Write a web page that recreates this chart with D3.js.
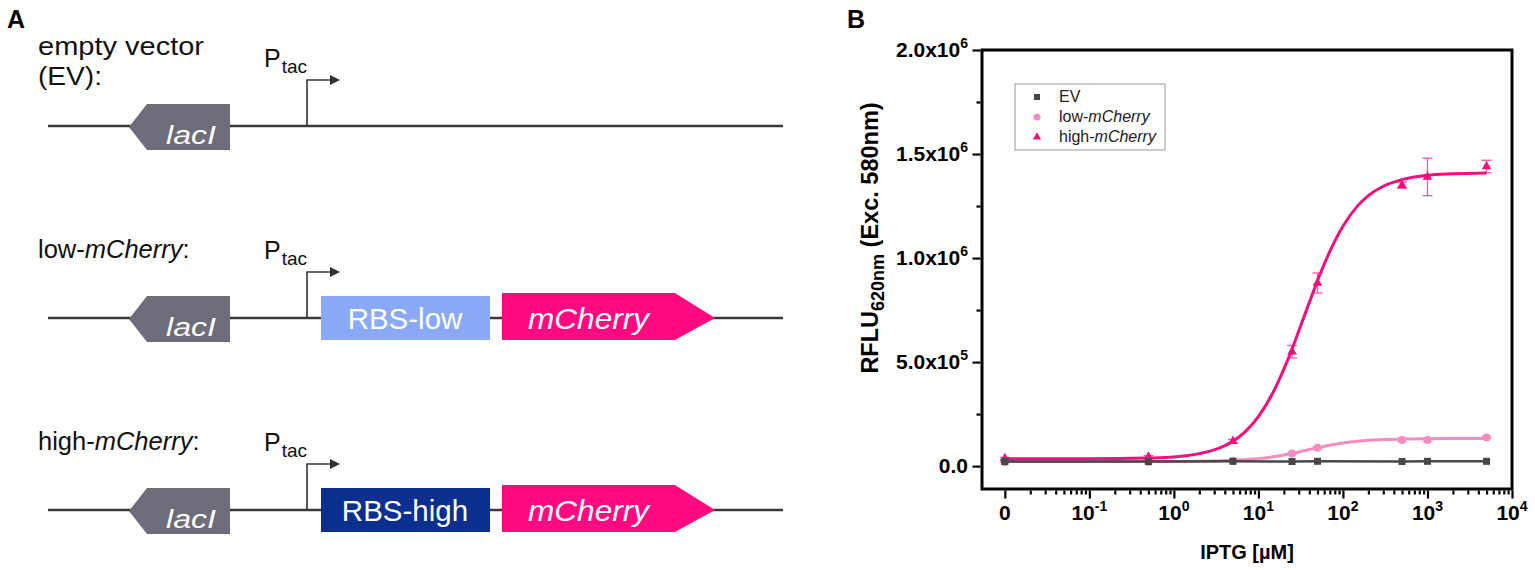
<!DOCTYPE html>
<html>
<head>
<meta charset="utf-8">
<script src="https://cdn.jsdelivr.net/npm/d3@7"></script>
<style>
    body { margin: 0; background: #fff; }
    svg { font-family: "Liberation Sans", Arial, sans-serif; }
</style>
</head>
<body>
<svg id="fig" width="1535" height="570"></svg>
<script>
// ---- data ----
// IPTG concentrations (µM); 0 is drawn at the 10^-2 position of the log axis
const iptg = [0, 0.5, 5, 25, 50, 500, 1000, 5000];
const evValues = [2.2e4, 2.2e4, 2.3e4, 2.2e4, 2.3e4, 2.2e4, 2.3e4, 2.3e4];
const lowValues = [2.0e4, 2.0e4, 2.6e4, 6.1e4, 8.8e4, 1.25e5, 1.26e5, 1.38e5];
const lowErrors = [3e3, 3e3, 3e3, 4e3, 5e3, 8e3, 1e4, 6e3];
const highValues = [3.7e4, 4.5e4, 1.2e5, 5.5e5, 8.8e5, 1.35e6, 1.39e6, 1.44e6];
const highErrors = [5e3, 5e3, 8e3, 3e4, 4.8e4, 1.5e4, 9e4, 3e4];

// fitted dose-response curves, sampled from the plot
const fitX = [0.01, 0.1, 0.5, 1, 2, 3, 5, 7, 10, 15, 20, 25, 30, 40, 50, 70, 100, 150, 200, 300, 500, 1000, 2000, 5000];
const highFit = [3.5e4, 3.5e4, 3.9e4, 4.4e4, 6.0e4, 7.8e4, 1.2e5, 1.66e5, 2.38e5, 3.56e5, 4.66e5, 5.63e5, 6.49e5, 7.87e5,
    8.91e5, 1.032e6, 1.153e6, 1.252e6, 1.30e6, 1.345e6, 1.377e6, 1.398e6, 1.405e6, 1.409e6];
const lowFit = [2.2e4, 2.2e4, 2.2e4, 2.25e4, 2.3e4, 2.45e4, 2.76e4, 3.15e4, 3.6e4, 4.49e4, 5.34e4, 6.12e4, 6.8e4, 7.96e4,
    8.84e4, 1.006e5, 1.111e5, 1.197e5, 1.238e5, 1.277e5, 1.304e5, 1.32e5, 1.327e5, 1.33e5];

const xMajor = [0.01, 0.1, 1, 10, 100, 1000, 10000];
const xLabels = [["0", null], ["10", "-1"], ["10", "0"], ["10", "1"], ["10", "2"], ["10", "3"], ["10", "4"]];
const yMajor = [0, 5e5, 1e6, 1.5e6, 2e6];
const yLabels = [["0.0", null], ["5.0x10", "5"], ["1.0x10", "6"], ["1.5x10", "6"], ["2.0x10", "6"]];
const yMinor = [2.5e5, 7.5e5, 1.25e6, 1.75e6];

// construct names for panel A
const constructs = [
    {label: [["empty vector", false]], label2: "(EV):", rbs: null},
    {label: [["low-", false], ["mCherry", true], [":", false]], rbs: "RBS-low"},
    {label: [["high-", false], ["mCherry", true], [":", false]], rbs: "RBS-high"}
];

const colors = {
    ev: "#474747", low: "#f48cc1", high: "#f50f7c",
    lacI: "#6c6d78", rbsLow: "#8aa9f6", rbsHigh: "#0b2f8e", mCherry: "#ff0a80", dna: "#3a3a3a"
};

const svg = d3.select("#fig");

// ================= panel A =================
svg.append("text").attr("x", 7).attr("y", 28)
    .attr("font-size", 25).attr("font-weight", "bold").text("A");

const panelA = svg.append("g");

constructs.forEach((c, i) => {
    let L = 126 + i * 192;
    let g = panelA.append("g");

    // row label
    let lab = g.append("text").attr("x", 38).attr("y", i === 0 ? 55 : L - 60).attr("font-size", 25.5).attr("fill", "#111");
    c.label.forEach(p => lab.append("tspan").attr("font-style", p[1] ? "italic" : "normal").text(p[0]));
    if (i === 0) lab.attr("textLength", 166).attr("lengthAdjust", "spacingAndGlyphs");
    if (c.label2) {
        g.append("text").attr("x", 38).attr("y", 85).attr("font-size", 25.5).attr("fill", "#111")
            .attr("textLength", 64).attr("lengthAdjust", "spacingAndGlyphs").text(c.label2);
    }

    // backbone
    g.append("line").attr("x1", 48).attr("x2", 783).attr("y1", L).attr("y2", L)
        .attr("stroke", colors.dna).attr("stroke-width", 2.5);

    // lacI (reverse orientation)
    g.append("polygon")
        .attr("points", [[129, L + 1], [147, L - 22], [230, L - 22], [230, L + 24], [147, L + 24]].join(" "))
        .attr("fill", colors.lacI);
    g.append("text").attr("x", 191).attr("y", L + 18).attr("text-anchor", "middle")
        .attr("font-size", 26).attr("font-style", "italic").attr("fill", "#fff")
        .attr("textLength", 50).attr("lengthAdjust", "spacingAndGlyphs").text("lacI");

    // Ptac promoter
    g.append("path").attr("d", `M307,${L} V${L - 46} H331`)
        .attr("fill", "none").attr("stroke", "#333").attr("stroke-width", 1.6);
    g.append("polygon").attr("points", [[330, L - 51], [340, L - 46], [330, L - 41]].join(" ")).attr("fill", "#333");
    let p = g.append("text").attr("x", 264).attr("y", L - 59).attr("font-size", 25).attr("fill", "#111");
    p.append("tspan").text("P");
    p.append("tspan").attr("font-size", 19).attr("dy", 6).attr("dx", 1).text("tac");

    if (c.rbs) {
        g.append("rect").attr("x", 321).attr("y", L - 22).attr("width", 169).attr("height", 44)
            .attr("fill", i === 1 ? colors.rbsLow : colors.rbsHigh);
        g.append("text").attr("x", 405).attr("y", L + 11).attr("text-anchor", "middle")
            .attr("font-size", 29.5).attr("fill", "#fff").text(c.rbs);
        g.append("polygon")
            .attr("points", [[502, L - 25], [675, L - 25], [715, L], [675, L + 22], [502, L + 22]].join(" "))
            .attr("fill", colors.mCherry);
        g.append("text").attr("x", 528).attr("y", L + 11)
            .attr("font-size", 30).attr("font-style", "italic").attr("fill", "#fff")
            .attr("textLength", 121).attr("lengthAdjust", "spacingAndGlyphs").text("mCherry");
    }
});

// ================= panel B =================
svg.append("text").attr("x", 847).attr("y", 28)
    .attr("font-size", 25).attr("font-weight", "bold").text("B");

const frame = {left: 982, right: 1512, top: 50, bottom: 489};

const x = d3.scaleLog()
    .domain([Math.pow(10, -2.27), 1e4])
    .range([frame.left, frame.right]);

const y = d3.scaleLinear()
    .domain([-1.1e5, 2.0e6])
    .range([frame.bottom, frame.top]);

const xPos = v => x(Math.max(v, 0.01));

// minor x ticks (2..9 per decade)
let xMinor = [];
for (let k = -2; k < 4; k++) {
    for (let m = 2; m < 10; m++) xMinor.push(m * Math.pow(10, k));
}

const axisStyle = g => {
    g.select(".domain").remove();
    g.selectAll(".tick line").attr("stroke", "#000").attr("stroke-width", 2.2);
};

svg.append("g").attr("transform", `translate(0, ${frame.bottom + 1.5})`)
    .call(d3.axisBottom(x).tickValues(xMinor).tickSize(4).tickFormat(() => ""))
    .call(axisStyle);
svg.append("g").attr("transform", `translate(0, ${frame.bottom + 1.5})`)
    .call(d3.axisBottom(x).tickValues(xMajor).tickSize(8).tickFormat(() => ""))
    .call(axisStyle);
svg.append("g").attr("transform", `translate(${frame.left - 1.5}, 0)`)
    .call(d3.axisLeft(y).tickValues(yMinor).tickSize(4).tickFormat(() => ""))
    .call(axisStyle);
svg.append("g").attr("transform", `translate(${frame.left - 1.5}, 0)`)
    .call(d3.axisLeft(y).tickValues(yMajor).tickSize(8).tickFormat(() => ""))
    .call(axisStyle);

// tick labels with superscripts
svg.append("g").selectAll("text").data(xMajor).join("text")
    .attr("x", d => x(d)).attr("y", 520).attr("text-anchor", "middle")
    .attr("font-size", 21).attr("font-weight", "bold")
    .each(function (d, i) {
        let t = d3.select(this);
        t.append("tspan").text(xLabels[i][0]);
        if (xLabels[i][1]) t.append("tspan").attr("dy", -9).attr("font-size", 14).text(xLabels[i][1]);
    });

svg.append("g").selectAll("text").data(yMajor).join("text")
    .attr("x", 968).attr("y", d => y(d) + 7).attr("text-anchor", "end")
    .attr("font-size", 21).attr("font-weight", "bold")
    .each(function (d, i) {
        let t = d3.select(this);
        t.append("tspan").text(yLabels[i][0]);
        if (yLabels[i][1]) t.append("tspan").attr("dy", -9).attr("font-size", 14).text(yLabels[i][1]);
    });

// axis titles
svg.append("text").attr("x", (frame.left + frame.right) / 2).attr("y", 559)
    .attr("text-anchor", "middle").attr("font-size", 20).attr("font-weight", "bold")
    .text("IPTG [µM]");

let yTitle = svg.append("text")
    .attr("transform", `translate(878, 238) rotate(-90)`)
    .attr("text-anchor", "middle").attr("font-size", 23.5).attr("font-weight", "bold");
yTitle.append("tspan").text("RFLU");
yTitle.append("tspan").attr("dy", 6).attr("font-size", 18).text("620nm");
yTitle.append("tspan").attr("dy", -6).text(" (Exc. 580nm)");

// plot content
const plot = svg.append("g");

const line = d3.line()
    .x(d => xPos(d[0]))
    .y(d => y(d[1]))
    .curve(d3.curveMonotoneX);

// error bars
const errBars = (vals, errs, color) => {
    let g = plot.append("g").attr("stroke", color).attr("stroke-width", 1.3).attr("opacity", 0.7);
    iptg.forEach((c, i) => {
        let cx = xPos(c);
        g.append("line").attr("x1", cx).attr("x2", cx).attr("y1", y(vals[i] - errs[i])).attr("y2", y(vals[i] + errs[i]));
        g.append("line").attr("x1", cx - 5).attr("x2", cx + 5).attr("y1", y(vals[i] - errs[i])).attr("y2", y(vals[i] - errs[i]));
        g.append("line").attr("x1", cx - 5).attr("x2", cx + 5).attr("y1", y(vals[i] + errs[i])).attr("y2", y(vals[i] + errs[i]));
    });
};
errBars(lowValues, lowErrors, colors.low);
errBars(highValues, highErrors, colors.high);

// low-mCherry fit + points
plot.append("path").datum(d3.zip(fitX, lowFit))
    .attr("d", line).attr("fill", "none").attr("stroke", colors.low).attr("stroke-width", 3);
plot.append("g").selectAll("circle").data(d3.zip(iptg, lowValues)).join("circle")
    .attr("cx", d => xPos(d[0])).attr("cy", d => y(d[1])).attr("r", 4).attr("fill", colors.low);

// high-mCherry fit + points
plot.append("path").datum(d3.zip(fitX, highFit))
    .attr("d", line).attr("fill", "none").attr("stroke", colors.high).attr("stroke-width", 3);
plot.append("g").selectAll("path").data(d3.zip(iptg, highValues)).join("path")
    .attr("transform", d => `translate(${xPos(d[0])}, ${y(d[1])})`)
    .attr("d", d3.symbol(d3.symbolTriangle, 40)).attr("fill", colors.high);

// EV line + points
plot.append("path").datum(d3.zip(iptg, evValues))
    .attr("d", d3.line().x(d => xPos(d[0])).y(d => y(d[1])))
    .attr("fill", "none").attr("stroke", colors.ev).attr("stroke-width", 2.5);
plot.append("g").selectAll("rect").data(d3.zip(iptg, evValues)).join("rect")
    .attr("x", d => xPos(d[0]) - 3.5).attr("y", d => y(d[1]) - 3.5)
    .attr("width", 7).attr("height", 7).attr("fill", colors.ev);

// frame
svg.append("rect")
    .attr("x", frame.left).attr("y", frame.top)
    .attr("width", frame.right - frame.left).attr("height", frame.bottom - frame.top)
    .attr("fill", "none").attr("stroke", "#000").attr("stroke-width", 3);

// legend
const legend = svg.append("g").attr("transform", "translate(1015, 84)");
legend.append("rect").attr("width", 150).attr("height", 66)
    .attr("fill", "#fff").attr("stroke", "#9a9a9a").attr("stroke-width", 1);

const legendItems = [
    {parts: [["EV", false]], color: colors.ev, sym: "square"},
    {parts: [["low-", false], ["mCherry", true]], color: colors.low, sym: "circle"},
    {parts: [["high-", false], ["mCherry", true]], color: colors.high, sym: "triangle"}
];
legendItems.forEach((d, i) => {
    let cy = 13 + i * 20;
    if (d.sym === "square") {
        legend.append("rect").attr("x", 19).attr("y", cy - 3).attr("width", 6).attr("height", 6).attr("fill", d.color);
    } else if (d.sym === "circle") {
        legend.append("circle").attr("cx", 22).attr("cy", cy).attr("r", 3.5).attr("fill", d.color);
    } else {
        legend.append("path").attr("transform", `translate(22, ${cy})`)
            .attr("d", d3.symbol(d3.symbolTriangle, 30)).attr("fill", d.color);
    }
    let t = legend.append("text").attr("x", 44).attr("y", cy + 5).attr("font-size", 16).attr("fill", "#222");
    d.parts.forEach(p => t.append("tspan").attr("font-style", p[1] ? "italic" : "normal").text(p[0]));
});
</script>
</body>
</html>
